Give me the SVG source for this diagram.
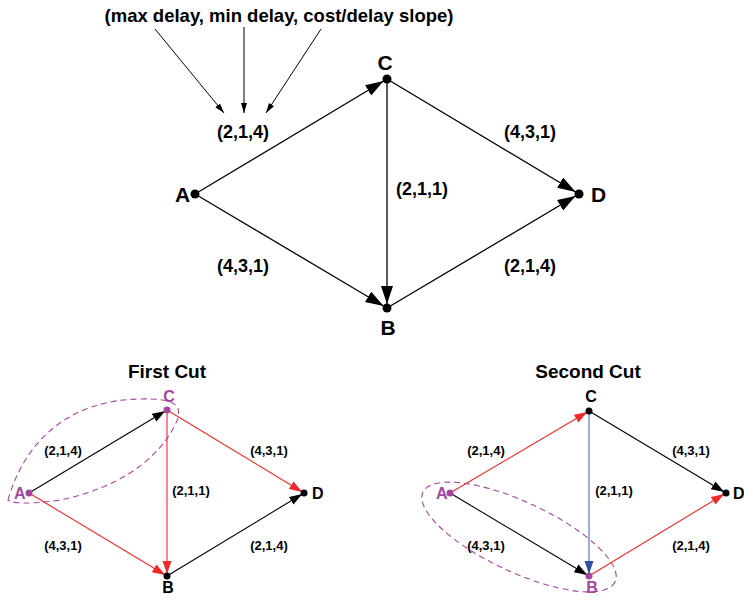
<svg xmlns="http://www.w3.org/2000/svg" width="744" height="601" viewBox="0 0 744 601">
  <style>
    text { font-family: "Liberation Sans", Arial, Helvetica, sans-serif; font-weight: bold; fill: #000; }
    .hdr { font-size: 18.5px; text-anchor: middle; }
    .nl { font-size: 21px; }
    .el { font-size: 18px; text-anchor: middle; }
    .title { font-size: 19px; text-anchor: middle; }
    .snl { font-size: 16px; }
    .sel { font-size: 13px; text-anchor: middle; }
    .mag { fill: #a3479e; }
    .e { fill: none; stroke: #000; stroke-width: 1.3; }
    .se { fill: none; stroke-width: 1.1; }
    .blk { stroke: #000; }
    .red { stroke: #ee2a2a; }
    .blu { stroke: #8797cf; stroke-width: 1.6; }
    .ptr { fill: none; stroke: #000; stroke-width: 1; }
    .cut { fill: none; stroke: #a3479e; stroke-width: 1.1; stroke-dasharray: 6 4; }
  </style>
  <defs>
    <marker id="arrBig" markerUnits="userSpaceOnUse" markerWidth="24" markerHeight="14" refX="22" refY="6" orient="auto">
      <path d="M0,0 L18,6 L0,12 z" fill="#000"/>
    </marker>
    <marker id="arrPtr" markerUnits="userSpaceOnUse" markerWidth="12" markerHeight="8" refX="10" refY="3" orient="auto">
      <path d="M0,0 L10,3 L0,6 z" fill="#000"/>
    </marker>
    <marker id="arrK" markerUnits="userSpaceOnUse" markerWidth="18" markerHeight="10" refX="15" refY="4.5" orient="auto">
      <path d="M0,0 L13,4.5 L0,9 z" fill="#000"/>
    </marker>
    <marker id="arrR" markerUnits="userSpaceOnUse" markerWidth="18" markerHeight="10" refX="15" refY="4.5" orient="auto">
      <path d="M0,0 L13,4.5 L0,9 z" fill="#ee2a2a"/>
    </marker>
    <marker id="arrB" markerUnits="userSpaceOnUse" markerWidth="18" markerHeight="10" refX="15" refY="4.5" orient="auto">
      <path d="M0,0 L13,4.5 L0,9 z" fill="#2f4fa5"/>
    </marker>
  </defs>

  <!-- legend for the edge triples -->
  <g id="legend">
    <text class="hdr" x="279" y="22">(max delay, min delay, cost/delay slope)</text>
    <line class="ptr" x1="155" y1="29" x2="224" y2="113" marker-end="url(#arrPtr)"/>
    <line class="ptr" x1="244" y1="27" x2="244" y2="113" marker-end="url(#arrPtr)"/>
    <line class="ptr" x1="321" y1="29" x2="266" y2="113" marker-end="url(#arrPtr)"/>
  </g>

  <!-- main network -->
  <g id="main-edges">
    <line class="e" x1="195" y1="194" x2="387" y2="79" marker-end="url(#arrBig)"/>
    <line class="e" x1="195" y1="194" x2="387" y2="308" marker-end="url(#arrBig)"/>
    <line class="e" x1="387" y1="79" x2="387" y2="308" marker-end="url(#arrBig)"/>
    <line class="e" x1="387" y1="79" x2="579" y2="194" marker-end="url(#arrBig)"/>
    <line class="e" x1="387" y1="308" x2="579" y2="194" marker-end="url(#arrBig)"/>
    <text class="el" x="243" y="138">(2,1,4)</text>
    <text class="el" x="530" y="138">(4,3,1)</text>
    <text class="el" x="422" y="195">(2,1,1)</text>
    <text class="el" x="243" y="272">(4,3,1)</text>
    <text class="el" x="530" y="272">(2,1,4)</text>
  </g>
  <g id="main-A"><circle cx="195" cy="194" r="4.5"/><text class="nl" x="175" y="202">A</text></g>
  <g id="main-C"><circle cx="387" cy="79" r="4.5"/><text class="nl" x="385" y="70" text-anchor="middle">C</text></g>
  <g id="main-D"><circle cx="579" cy="194" r="4.5"/><text class="nl" x="591" y="202">D</text></g>
  <g id="main-B"><circle cx="387" cy="308" r="4.5"/><text class="nl" x="388" y="335" text-anchor="middle">B</text></g>

  <!-- first cut -->
  <text class="title" x="167" y="378">First Cut</text>
  <g id="cut1-edges">
    <path class="cut" d="M8,500 C25,440 70,400 140,399 C175,398 185,405 175,425 C155,465 110,490 60,500 C35,504 12,504 8,500 Z"/>
    <line class="se blk" x1="29" y1="493" x2="167" y2="410" marker-end="url(#arrK)"/>
    <line class="se red" x1="29" y1="493" x2="167" y2="576" marker-end="url(#arrR)"/>
    <line class="se red" x1="167" y1="410" x2="167" y2="576" marker-end="url(#arrR)"/>
    <line class="se red" x1="167" y1="410" x2="304" y2="493" marker-end="url(#arrR)"/>
    <line class="se blk" x1="167" y1="576" x2="304" y2="493" marker-end="url(#arrK)"/>
    <text class="sel" x="63" y="455">(2,1,4)</text>
    <text class="sel" x="269" y="455">(4,3,1)</text>
    <text class="sel" x="191" y="495">(2,1,1)</text>
    <text class="sel" x="63" y="550">(4,3,1)</text>
    <text class="sel" x="269" y="550">(2,1,4)</text>
  </g>
  <g id="cut1-A"><circle cx="29" cy="493" r="3.5" fill="#a3479e"/><text class="snl mag" x="14" y="499">A</text></g>
  <g id="cut1-C"><circle cx="167" cy="410" r="3.5" fill="#a3479e"/><text class="snl mag" x="169" y="402" text-anchor="middle">C</text></g>
  <g id="cut1-D"><circle cx="304" cy="493" r="3.5"/><text class="snl" x="312" y="499">D</text></g>
  <g id="cut1-B"><circle cx="167" cy="576" r="3.5"/><text class="snl" x="168" y="593" text-anchor="middle">B</text></g>

  <!-- second cut -->
  <text class="title" x="588" y="378">Second Cut</text>
  <g id="cut2-edges">
    <ellipse class="cut" cx="519" cy="537" rx="106" ry="35" transform="rotate(25 519 537)"/>
    <line class="se red" x1="450" y1="493" x2="589" y2="411" marker-end="url(#arrR)"/>
    <line class="se blk" x1="450" y1="493" x2="589" y2="576" marker-end="url(#arrK)"/>
    <line class="se blu" x1="589" y1="411" x2="589" y2="576" marker-end="url(#arrB)"/>
    <line class="se blk" x1="589" y1="411" x2="726" y2="493" marker-end="url(#arrK)"/>
    <line class="se red" x1="589" y1="576" x2="726" y2="493" marker-end="url(#arrR)"/>
    <text class="sel" x="486" y="455">(2,1,4)</text>
    <text class="sel" x="691" y="455">(4,3,1)</text>
    <text class="sel" x="614" y="495">(2,1,1)</text>
    <text class="sel" x="486" y="550">(4,3,1)</text>
    <text class="sel" x="691" y="550">(2,1,4)</text>
  </g>
  <g id="cut2-A"><circle cx="450" cy="493" r="3.5" fill="#a3479e"/><text class="snl mag" x="436" y="499">A</text></g>
  <g id="cut2-C"><circle cx="589" cy="411" r="3.5"/><text class="snl" x="591" y="402" text-anchor="middle">C</text></g>
  <g id="cut2-D"><circle cx="726" cy="493" r="3.5"/><text class="snl" x="733" y="499">D</text></g>
  <g id="cut2-B"><circle cx="589" cy="576" r="3.5" fill="#a3479e"/><text class="snl mag" x="592" y="593" text-anchor="middle">B</text></g>
</svg>
